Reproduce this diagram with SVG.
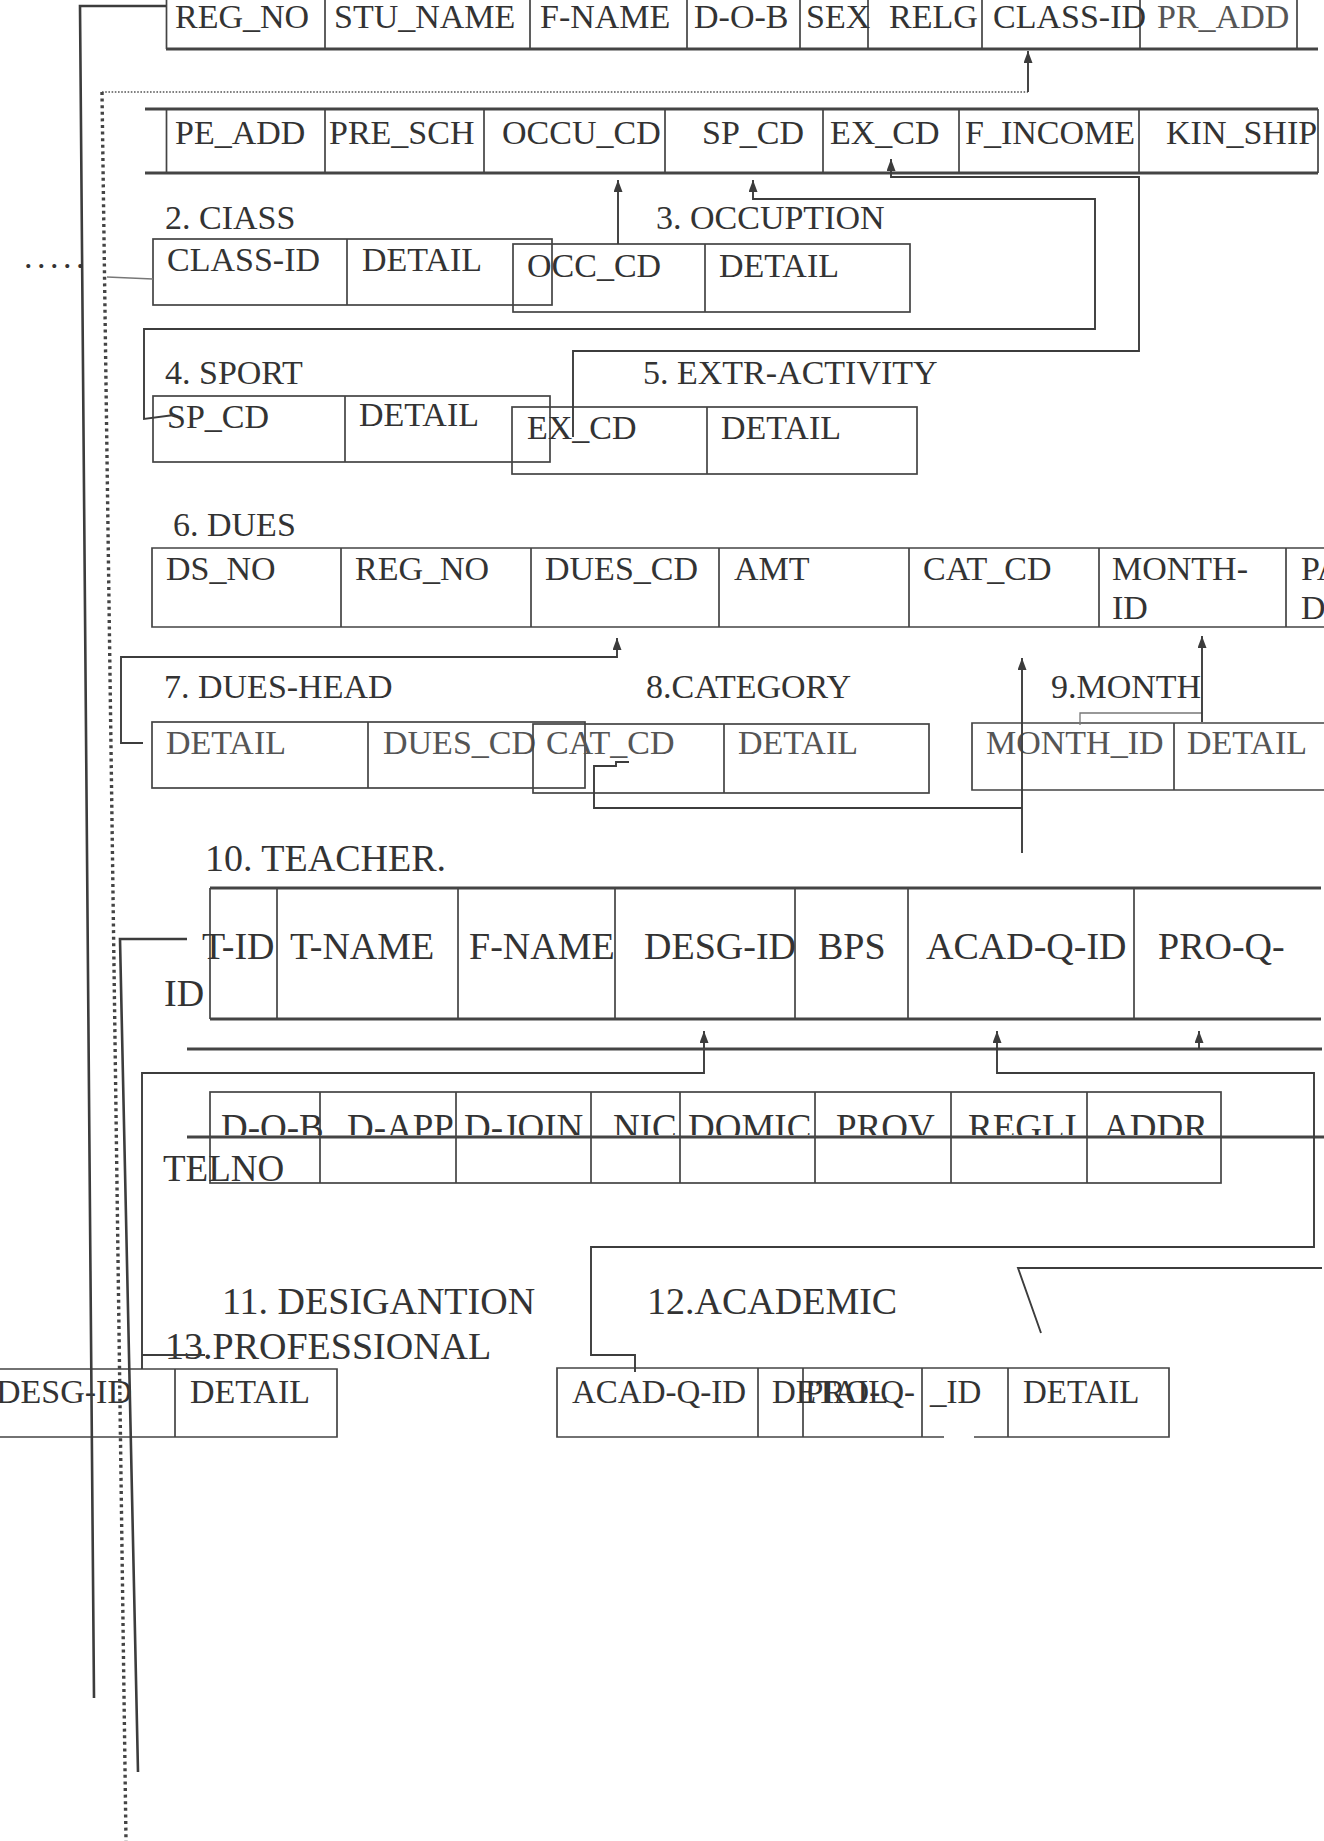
<svg xmlns="http://www.w3.org/2000/svg" width="1324" height="1841" viewBox="0 0 1324 1841">
<style>
.t{font-family:"Liberation Serif","Times New Roman",serif;font-size:34px;fill:#333}
.m{font-size:33px}
.L{font-size:38px}
.L2{font-size:37px}
.lt{fill:#555}
.b{fill:none;stroke:#444;stroke-width:1.7}
.h{fill:none;stroke:#444;stroke-width:3}
.c{fill:none;stroke:#3c3c3c;stroke-width:1.9}
.cs{fill:none;stroke:#3c3c3c;stroke-width:2.6}
.dv{fill:none;stroke:#444;stroke-width:3.4;stroke-dasharray:3 3.6}
.dh{fill:none;stroke:#555;stroke-width:1.6;stroke-dasharray:1.6 1.6}
.thin{fill:none;stroke:#777;stroke-width:1.3}
</style>
<defs>
<marker id="ar" viewBox="0 0 12 9" refX="12" refY="4.5" markerWidth="12" markerHeight="9" markerUnits="userSpaceOnUse" orient="auto"><path d="M0,0 L12,4.5 L0,9 z" fill="#3c3c3c"/></marker>
<clipPath id="cut"><rect x="0" y="1090" width="1324" height="45"/></clipPath>
</defs>
<rect width="1324" height="1841" fill="#fff"/>

<g id="student-row1">
<path class="h" d="M166,49 H1318"/>
<path class="b" d="M166.5,0 V49 M325,0 V49 M530,0 V49 M687,0 V49 M800,0 V49 M868,0 V49 M982,0 V49 M1140,0 V49 M1297,0 V49"/>
<text class="t" x="175" y="28">REG_NO</text>
<text class="t" x="334" y="28">STU_NAME</text>
<text class="t" x="540" y="28">F-NAME</text>
<text class="t" x="694" y="28">D-O-B</text>
<text class="t" x="806" y="28">SEX</text>
<text class="t" x="889" y="28">RELG</text>
<text class="t" x="993" y="28">CLASS-ID</text>
<text class="t lt" x="1157" y="28">PR_ADD</text>
</g>

<g id="student-row2">
<path class="h" d="M145,109 H1318 M145,173 H1318"/>
<path class="b" d="M166.5,109 V173 M325,109 V173 M484,109 V173 M665,109 V173 M823,109 V173 M959,109 V173 M1139,109 V173 M1318,109 V173"/>
<text class="t" x="175" y="144">PE_ADD</text>
<text class="t" x="329" y="144">PRE_SCH</text>
<text class="t" x="502" y="144">OCCU_CD</text>
<text class="t" x="702" y="144">SP_CD</text>
<text class="t" x="830" y="144">EX_CD</text>
<text class="t" x="965" y="144">F_INCOME</text>
<text class="t" x="1166" y="144">KIN_SHIP</text>
</g>

<g id="class">
<text class="t" x="165" y="229">2. CIASS</text>
<rect class="b" x="153" y="239" width="399" height="66"/>
<path class="b" d="M347,239 V305"/>
<text class="t" x="167" y="271">CLASS-ID</text>
<text class="t" x="362" y="271">DETAIL</text>
</g>

<g id="occupation">
<text class="t" x="656" y="229">3. OCCUPTION</text>
<rect class="b" x="513" y="244" width="397" height="68"/>
<path class="b" d="M705,244 V312"/>
<text class="t" x="527" y="277">OCC_CD</text>
<text class="t" x="719" y="277">DETAIL</text>
</g>

<g id="sport">
<text class="t" x="165" y="384">4. SPORT</text>
<rect class="b" x="153" y="396" width="397" height="66"/>
<path class="b" d="M345,396 V462"/>
<text class="t" x="167" y="428">SP_CD</text>
<text class="t" x="359" y="426">DETAIL</text>
</g>

<g id="extr-activity">
<text class="t" x="643" y="384">5. EXTR-ACTIVITY</text>
<rect class="b" x="512" y="407" width="405" height="67"/>
<path class="b" d="M707,407 V474"/>
<text class="t" x="527" y="439">EX_CD</text>
<text class="t" x="721" y="439">DETAIL</text>
</g>

<g id="dues">
<text class="t" x="173" y="536">6. DUES</text>
<path class="b" d="M1324,548 H152 V627 H1324 M341,548 V627 M531,548 V627 M719,548 V627 M909,548 V627 M1099,548 V627 M1286,548 V627"/>
<text class="t" x="166" y="580">DS_NO</text>
<text class="t" x="355" y="580">REG_NO</text>
<text class="t" x="545" y="580">DUES_CD</text>
<text class="t" x="734" y="580">AMT</text>
<text class="t" x="923" y="580">CAT_CD</text>
<text class="t" x="1112" y="580">MONTH-</text>
<text class="t" x="1112" y="619">ID</text>
<text class="t" x="1301" y="580">PA</text>
<text class="t" x="1301" y="619">D</text>
</g>

<g id="dues-head">
<text class="t" x="164" y="698">7. DUES-HEAD</text>
<rect class="b" x="152" y="722" width="433" height="66"/>
<path class="b" d="M368,722 V788"/>
<text class="t lt" x="166" y="754">DETAIL</text>
<text class="t lt" x="383" y="754">DUES_CD</text>
</g>

<g id="category">
<text class="t" x="646" y="698">8.CATEGORY</text>
<rect class="b" x="533" y="724" width="396" height="69"/>
<path class="b" d="M724,724 V793"/>
<text class="t lt" x="546" y="754">CAT_CD</text>
<text class="t lt" x="738" y="754">DETAIL</text>
</g>

<g id="month">
<text class="t" x="1051" y="698">9.MONTH</text>
<path class="b" d="M1324,723 H972 V790 H1324 M1174,723 V790"/>
<text class="t lt" x="986" y="754">MONTH_ID</text>
<text class="t lt" x="1187" y="754">DETAIL</text>
</g>

<g id="teacher">
<text class="t L" x="205" y="871">10. TEACHER.</text>
<path class="h" d="M210,888 H1321 M210,1019 H1321"/>
<path class="b" d="M210,888 V1019 M277,888 V1019 M458,888 V1019 M615,888 V1019 M795,888 V1019 M908,888 V1019 M1134,888 V1019"/>
<text class="t L" x="202" y="959">T-ID</text>
<text class="t L" x="290" y="959">T-NAME</text>
<text class="t L" x="469" y="959">F-NAME</text>
<text class="t L" x="644" y="959">DESG-ID</text>
<text class="t L" x="818" y="959">BPS</text>
<text class="t L" x="926" y="959">ACAD-Q-ID</text>
<text class="t L" x="1158" y="959">PRO-Q-</text>
<text class="t L" x="164" y="1006">ID</text>
</g>

<g id="teacher-row2">
<rect class="b" x="210" y="1092" width="1011" height="91"/>
<path class="b" d="M320,1092 V1183 M456,1092 V1183 M591,1092 V1183 M680,1092 V1183 M815,1092 V1183 M951,1092 V1183 M1087,1092 V1183"/>
<g clip-path="url(#cut)">
<text class="t L2" x="221" y="1140">D-O-B</text>
<text class="t L2" x="347" y="1140">D-APP</text>
<text class="t L2" x="464" y="1140">D-JOIN</text>
<text class="t L2" x="613" y="1140">NIC</text>
<text class="t L2" x="688" y="1140">DOMIC</text>
<text class="t L2" x="836" y="1140">PROV</text>
<text class="t L2" x="968" y="1140">REGLI</text>
<text class="t L2" x="1103" y="1140">ADDR</text>
</g>
<path class="h" d="M187,1137 H1324"/>
<text class="t L2" x="163" y="1181">TELNO</text>
</g>

<g id="designation">
<text class="t L" x="222" y="1314">11. DESIGANTION</text>
<path class="b" d="M0,1369 H337 V1437 H0 M175,1369 V1437"/>
<text class="t" x="-4" y="1403">DESG-ID</text>
<text class="t" x="190" y="1403">DETAIL</text>
</g>

<g id="academic">
<text class="t L" x="647" y="1314">12.ACADEMIC</text>
<path class="b" d="M974,1437 H1169 V1368 H557 V1437 H944 M758,1368 V1437 M803,1368 V1437"/>
<text class="t m" x="572" y="1403">ACAD-Q-ID</text>
<text class="t m" x="772" y="1403">DETAIL</text>
</g>

<g id="professional">
<text class="t L" x="165" y="1359">13.PROFESSIONAL</text>
<path class="b" d="M922,1368 V1437 M1008,1368 V1437"/>
<text class="t m" x="805" y="1403">PRO-Q-</text>
<text class="t m" x="930" y="1403">_ID</text>
<text class="t m" x="1023" y="1403">DETAIL</text>
</g>

<g id="connectors">
<path class="cs" d="M166,6 H80 L94,1698"/>
<path class="dh" d="M102,92 H1028"/>
<path class="dv" d="M102,92 L126,1841"/>
<path class="c" d="M1028,92 V51" marker-end="url(#ar)"/>
<path class="thin" d="M107,277 L153,279"/>
<path class="c" d="M618,244 V180" marker-end="url(#ar)"/>
<path class="c" d="M174,415 L144,419 V329 H1095 V199 H753 V180" marker-end="url(#ar)"/>
<path class="c" d="M573,437 V351 H1139 V177 H891 V159" marker-end="url(#ar)"/>
<path class="c" d="M143,743 H121 V657 H617 V638" marker-end="url(#ar)"/>
<path class="c" d="M629,762 H616 V766 H594 V808 H1022"/>
<path class="c" d="M1022,853 V658" marker-end="url(#ar)"/>
<path class="thin" d="M1080,725 V713 H1202"/>
<path class="c" d="M1202,722 V636" marker-end="url(#ar)"/>
<path class="cs" d="M187,939 H120 L138,1772"/>
<path class="c" d="M205,1355 H142"/>
<path class="c" d="M142,1369 V1073 H704 V1031" marker-end="url(#ar)"/>
<path class="h" d="M187,1049 H1322"/>
<path class="c" d="M1199,1049 V1031" marker-end="url(#ar)"/>
<path class="c" d="M635,1372 V1355 H591 V1247 H1314 V1073 H997 V1031" marker-end="url(#ar)"/>
<path class="c" d="M1322,1268 H1018 L1041,1333"/>
</g>

<text class="t" x="24" y="268" letter-spacing="4.5">.....</text>
</svg>
